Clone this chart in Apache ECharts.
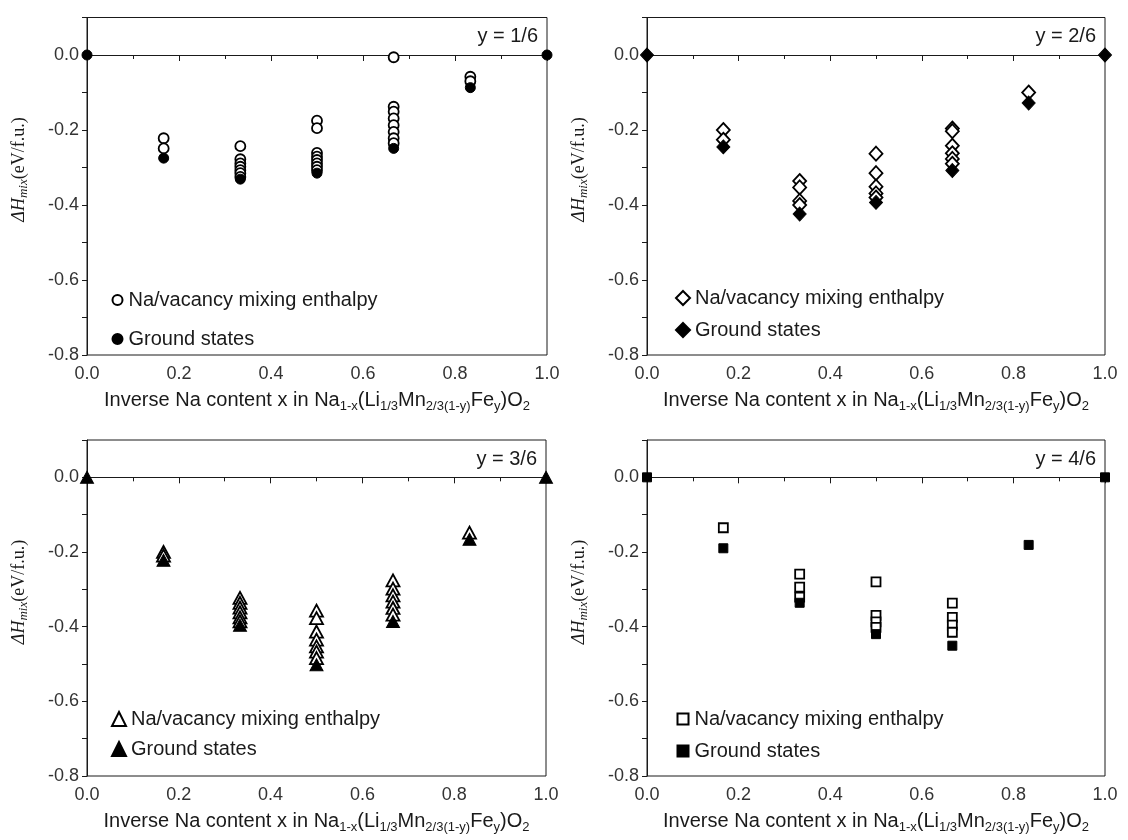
<!DOCTYPE html>
<html>
<head>
<meta charset="utf-8">
<style>
  html, body { margin: 0; padding: 0; background: #fff; }
  #chart { width: 1128px; height: 840px; }
</style>
<script src="https://cdn.jsdelivr.net/npm/echarts@6/dist/echarts.min.js"></script>
</head>
<body>
<div id="chart"></div>
<script>
// Na content positions (x) shared by all four Fe fractions
const xFrac = [1/6, 2/6, 3/6, 4/6, 5/6];
const groundX = [0, 1/6, 2/6, 3/6, 4/6, 5/6, 1];

// Mixing enthalpies (eV/f.u.) of enumerated Na/vacancy orderings, one list per x
const mixY1 = [
  [-0.222, -0.249],
  [-0.243, -0.278, -0.289, -0.298, -0.307, -0.315, -0.325],
  [-0.175, -0.195, -0.261, -0.271, -0.280, -0.289, -0.298, -0.307],
  [-0.006, -0.138, -0.151, -0.169, -0.187, -0.205, -0.222, -0.235],
  [-0.058, -0.070]
];
const mixY2 = [
  [-0.200, -0.226],
  [-0.336, -0.353, -0.389, -0.400],
  [-0.263, -0.315, -0.351, -0.369, -0.380],
  [-0.196, -0.203, -0.242, -0.262, -0.277, -0.290],
  [-0.100]
];
const mixY3 = [
  [-0.200, -0.210],
  [-0.323, -0.336, -0.349, -0.362, -0.375, -0.386],
  [-0.357, -0.377, -0.413, -0.435, -0.453, -0.467, -0.484],
  [-0.276, -0.298, -0.316, -0.333, -0.350, -0.368],
  [-0.148]
];
const mixY4 = [
  [-0.135],
  [-0.259, -0.294, -0.321],
  [-0.280, -0.370, -0.387, -0.402],
  [-0.337, -0.375, -0.396, -0.415],
  []
];

// Ground-state (convex hull) energies at groundX
const groundY1 = [0, -0.275, -0.331, -0.315, -0.249, -0.087, 0];
const groundY2 = [0, -0.245, -0.424, -0.393, -0.308, -0.128, 0];
const groundY3 = [0, -0.222, -0.396, -0.502, -0.386, -0.166, 0];
const groundY4 = [0, -0.190, -0.336, -0.420, -0.451, -0.181, 0];

const panelLabels = ['y = 1/6', 'y = 2/6', 'y = 3/6', 'y = 4/6'];
const xTicks = [0, 0.2, 0.4, 0.6, 0.8, 1.0];
const yTicks = [-0.8, -0.6, -0.4, -0.2, 0.0];

const MIX_NAME = 'Na/vacancy mixing enthalpy';
const GS_NAME = 'Ground states';

const SANS = '"Liberation Sans", Arial, sans-serif';
const SERIF = '"Liberation Serif", "Times New Roman", serif';
const INK = '#1a1a1a';

// grid boxes: [left, top, width, height]
const grids = [
  [87, 17.5, 460, 337.5],
  [647, 17.5, 458, 337.5],
  [87, 440, 459, 336],
  [647, 440, 458, 336]
];
const symbols = ['circle', 'diamond', 'triangle', 'rect'];
const symSizes = [10, [13, 14], [13, 12], 9];

// legend layout per panel: icon size, icon centre x, top, item gap, text pad
const legendIcon = [10, 14, 14, 11];
const legendCx = [111.5, 677, 113, 677];
const legendTop = [285, 283, 704, 704];
const legendGap = [19, 12, 10, 12];
const legendPad = [1, 0, 0, 1];

const mixSets = [mixY1, mixY2, mixY3, mixY4];
const groundSets = [groundY1, groundY2, groundY3, groundY4];

function mixPoints(set) {
  const pts = [];
  set.forEach((ys, i) => ys.forEach(v => pts.push([xFrac[i], v])));
  return pts;
}

const xName = '{t|Inverse Na content x in Na}{s|1-x}{t|(Li}{s|1/3}{t|Mn}{s|2/3(1-y)}{t|Fe}{s|y}{t|)O}{s|2}';

const option = {
  animation: false,
  backgroundColor: '#fff',
  grid: grids.map(g => ({
    left: g[0], top: g[1], width: g[2], height: g[3],
    show: true, borderColor: INK, borderWidth: 1, containLabel: false
  })),
  xAxis: grids.map((g, i) => ({
    gridIndex: i, type: 'value', min: 0, max: 1, interval: 0.2,
    axisLine: { lineStyle: { color: INK, width: 1 } },
    axisTick: { inside: false, length: 6, lineStyle: { color: INK } },
    minorTick: { show: true, splitNumber: 2, length: 4, lineStyle: { color: INK } },
    splitLine: { show: false },
    axisLabel: {
      margin: 10, color: '#333', fontSize: 18, fontFamily: SANS,
      formatter: v => xTicks.some(t => Math.abs(t - v) < 1e-9) ? v.toFixed(1) : ''
    },
    name: xName, nameLocation: 'middle', nameGap: 33,
    nameTextStyle: {
      rich: {
        t: { fontSize: 20, fontFamily: SANS, color: INK, lineHeight: 22 },
        s: { fontSize: 13, fontFamily: SANS, color: INK, padding: [12, 0, 0, 0] }
      }
    }
  })),
  yAxis: grids.map((g, i) => ({
    gridIndex: i, type: 'value', min: -0.8, max: 0.1, interval: 0.1,
    axisLine: { lineStyle: { color: INK, width: 1 } },
    axisTick: { inside: false, length: 5, lineStyle: { color: INK } },
    splitLine: { show: false },
    axisLabel: {
      margin: 8, color: '#333', fontSize: 18, fontFamily: SANS,
      formatter: v => yTicks.some(t => Math.abs(t - v) < 1e-9) ? (Math.abs(v) < 1e-9 ? '0.0' : v.toFixed(1)) : ''
    }
  })),
  legend: grids.map((g, i) => {
    const s = legendIcon[i];
    return {
      orient: 'vertical',
      left: legendCx[i] - s / 2,
      top: legendTop[i],
      itemWidth: s, itemHeight: s,
      itemGap: legendGap[i],
      selectedMode: false,
      textStyle: { fontSize: 20, fontFamily: SANS, color: INK, padding: [0, 0, 0, legendPad[i]] },
      data: [
        { name: MIX_NAME, icon: symbols[i] },
        { name: GS_NAME, icon: symbols[i] }
      ]
    };
  }),
  graphic: [],
  series: []
};

grids.forEach((g, i) => {
  option.series.push({
    name: MIX_NAME, type: 'scatter', xAxisIndex: i, yAxisIndex: i,
    symbol: symbols[i], symbolSize: symSizes[i], clip: true,
    itemStyle: { color: '#fff', borderColor: '#000', borderWidth: 1.8, opacity: 1 },
    data: mixPoints(mixSets[i]), z: 2
  });
  option.series.push({
    name: GS_NAME, type: 'scatter', xAxisIndex: i, yAxisIndex: i,
    symbol: symbols[i], symbolSize: symSizes[i], clip: true,
    itemStyle: { color: '#000', borderColor: '#000', borderWidth: 1, opacity: 1 },
    data: groundX.map((x, k) => [x, groundSets[i][k]]), z: 3
  });
  // panel tag in the upper right corner
  option.graphic.push({
    type: 'text', x: g[0] + g[2] - 9, y: g[1] + 19,
    style: {
      text: panelLabels[i], fill: INK, font: '20px ' + SANS,
      align: 'right', verticalAlign: 'middle'
    }
  });
  // rotated y-axis title
  option.graphic.push({
    type: 'text', x: i % 2 === 0 ? 19 : 579, y: g[1] + 152, rotation: Math.PI / 2,
    style: {
      text: '{d|ΔH}{m|mix}{u|(eV/f.u.)}',
      align: 'center', verticalAlign: 'middle',
      rich: {
        d: { fontSize: 18, fontFamily: SERIF, fontStyle: 'italic', fill: INK, color: INK },
        m: { fontSize: 13, fontFamily: SERIF, fontStyle: 'italic', fill: INK, color: INK, padding: [9, 0, 0, 0] },
        u: { fontSize: 18, fontFamily: SERIF, fill: INK, color: INK }
      }
    }
  });
});

const chart = echarts.init(document.getElementById('chart'), null, { renderer: 'canvas' });
chart.setOption(option);
</script>
</body>
</html>
